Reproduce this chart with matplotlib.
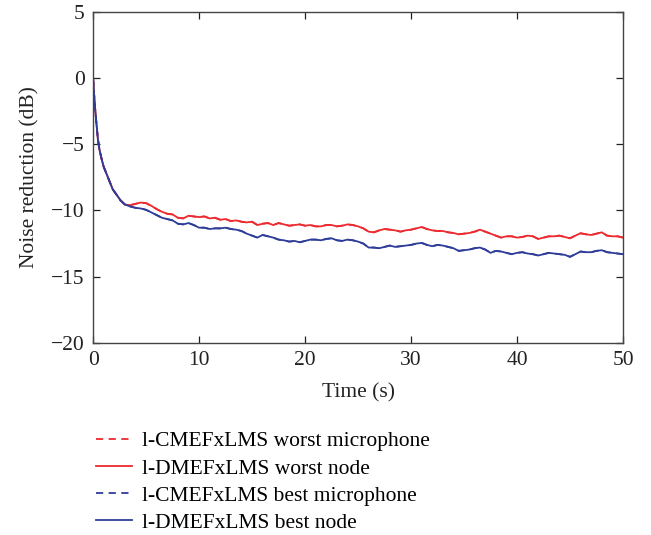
import numpy as np
import matplotlib
matplotlib.use('Agg')
import matplotlib.pyplot as plt

# ============================================================
# DATA
# ============================================================

t_start = [0, 0.1, 0.2, 0.3, 0.45, 0.6, 0.8, 1.0, 1.25, 1.5, 1.85, 2.25, 2.6]
start_vals = [0, -1.3, -2.4, -3.3, -4.6, -5.4, -6.1, -6.7, -7.2, -7.7, -8.4, -8.85, -9.25]

t_main = list(np.arange(3.0, 50.01, 0.5))

worst_node = [
    -9.55, -9.6, -9.5, -9.4, -9.45, -9.65, -9.9, -10.1, -10.25, -10.3,
    -10.55, -10.6, -10.4, -10.45, -10.5, -10.45, -10.6, -10.55, -10.7, -10.65,
    -10.8, -10.75, -10.85, -10.9, -10.85, -11.1, -11.0, -10.95, -11.1, -10.95,
    -11.05, -11.15, -11.1, -11.05, -11.15, -11.1, -11.2, -11.2, -11.1, -11.1,
    -11.2, -11.15, -11.05, -11.1, -11.2, -11.35, -11.6, -11.65, -11.5, -11.4,
    -11.45, -11.5, -11.6, -11.5, -11.45, -11.35, -11.25, -11.4, -11.5, -11.55,
    -11.55, -11.65, -11.7, -11.8, -11.75, -11.7, -11.6, -11.45, -11.6, -11.75,
    -11.9, -12.05, -11.95, -11.95, -12.05, -12.0, -11.9, -11.95, -12.15, -12.05,
    -11.95, -11.95, -11.9, -12.0, -12.1, -11.9, -11.72, -11.8, -11.85, -11.75,
    -11.65, -11.9, -11.95, -11.95, -12.05,
]

best_node = [
    -9.55, -9.7, -9.8, -9.85, -9.95, -10.15, -10.35, -10.55, -10.65, -10.75,
    -11.0, -11.05, -10.95, -11.1, -11.3, -11.3, -11.4, -11.35, -11.35, -11.3,
    -11.4, -11.45, -11.55, -11.75, -11.9, -12.05, -11.85, -11.95, -12.05, -12.2,
    -12.25, -12.35, -12.3, -12.4, -12.3, -12.2, -12.2, -12.25, -12.15, -12.1,
    -12.25, -12.3, -12.2, -12.25, -12.35, -12.5, -12.8, -12.8, -12.85, -12.75,
    -12.65, -12.75, -12.7, -12.65, -12.6, -12.5, -12.45, -12.6, -12.7, -12.6,
    -12.65, -12.75, -12.85, -13.05, -13.0, -12.95, -12.85, -12.8, -12.95, -13.2,
    -13.05, -13.1, -13.2, -13.3, -13.2, -13.15, -13.25, -13.3, -13.4, -13.3,
    -13.2, -13.25, -13.3, -13.35, -13.5, -13.3, -13.1, -13.15, -13.15, -13.05,
    -13.0, -13.15, -13.2, -13.25, -13.3,
]

# centralised (microphone) curves sit right under the distributed (node) ones
worst_mic = worst_node
best_mic = best_node

t = t_start + t_main

RED = '#ec2a30'
BLUE = '#2e3d98'
FS = 15.5

# ============================================================
# PLOT
# ============================================================

plt.rcParams['font.family'] = ['Liberation Serif', 'DejaVu Serif']

fig = plt.figure(figsize=(6.51, 5.35), dpi=100)
ax = fig.add_axes([0.143, 0.359, 0.814, 0.619])

ax.plot(t, start_vals + worst_mic, color=RED, lw=1.3, ls=(0, (4, 3)),
        label='l-CMEFxLMS worst microphone')
ax.plot(t, start_vals + worst_node, color=RED, lw=1.3,
        label='l-DMEFxLMS worst node')
ax.plot(t, start_vals + best_mic, color=BLUE, lw=1.3, ls=(0, (4, 3)),
        label='l-CMEFxLMS best microphone')
ax.plot(t, start_vals + best_node, color=BLUE, lw=1.3,
        label='l-DMEFxLMS best node')

ax.set_xlim(0, 50)
ax.set_ylim(-20, 5)
ax.set_xticks([0, 10, 20, 30, 40, 50])
ax.set_yticks([-20, -15, -10, -5, 0, 5])
ax.set_yticklabels(['\u221220', '\u221215', '\u221210', '\u22125', '0', '5'])
ax.tick_params(direction='in', top=True, right=True, length=5,
               labelsize=FS, colors='#222222', width=0.9, pad=6)
for s in ax.spines.values():
    s.set_color('#444444')
    s.set_linewidth(1.0)

ax.set_xlabel('Time (s)', fontsize=FS, color='#222222', labelpad=9)
ax.set_ylabel('Noise reduction (dB)', fontsize=FS, color='#222222', labelpad=8)

fig.legend(loc='upper left', bbox_to_anchor=(0.135, 0.21), frameon=False,
           fontsize=FS, handlelength=1.63, handletextpad=0.47,
           labelspacing=0.33, borderaxespad=0)

plt.savefig('out.png', dpi=100)
